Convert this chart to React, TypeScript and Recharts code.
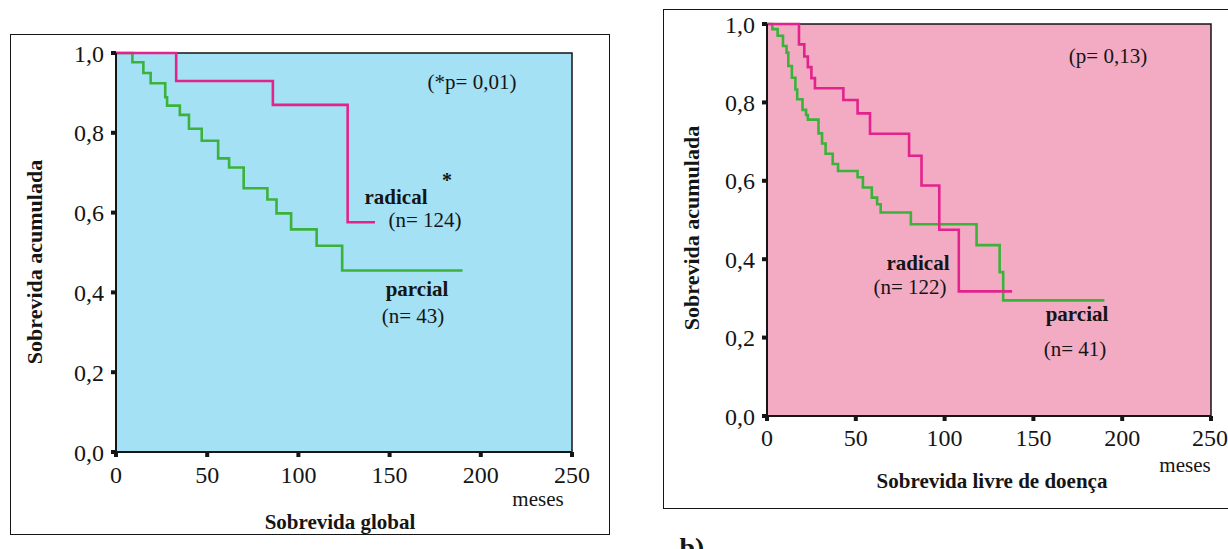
import React from 'react';
import { LineChart, Line, XAxis, YAxis, ReferenceArea } from 'recharts';

// Sobrevida global (months, cumulative survival)
const globalRadicalTimes = [0, 33, 86, 127, 142];
const globalRadicalSurv = [1.0, 0.93, 0.87, 0.576, 0.576];
const globalParcialTimes = [0, 9, 15, 19, 27, 28, 35, 40, 47, 56, 62, 70, 83, 88, 96, 110, 124, 190];
const globalParcialSurv = [
  1.0, 0.977, 0.95, 0.924, 0.889, 0.868, 0.845, 0.81, 0.78, 0.736, 0.713, 0.661, 0.633, 0.598, 0.558,
  0.517, 0.455, 0.455,
];

// Sobrevida livre de doença
const dfsRadicalTimes = [0, 18, 21, 23, 25, 27, 43, 51, 58, 80, 87, 97, 108, 138];
const dfsRadicalSurv = [1.0, 0.948, 0.917, 0.89, 0.862, 0.836, 0.806, 0.772, 0.72, 0.664, 0.588, 0.475, 0.318, 0.318];
const dfsParcialTimes = [
  0, 3, 6, 9, 11, 12, 14, 16, 17, 20, 22, 23, 29, 31, 33, 37, 40, 51, 54, 59, 62, 64, 81, 118, 131, 133, 190,
];
const dfsParcialSurv = [
  1.0, 0.987, 0.97, 0.944, 0.927, 0.893, 0.863, 0.833, 0.808, 0.781, 0.768, 0.756, 0.721, 0.695, 0.669, 0.643,
  0.625, 0.609, 0.583, 0.557, 0.54, 0.519, 0.489, 0.436, 0.367, 0.295, 0.295,
];

const xTicks = [0, 50, 100, 150, 200, 250];
const yTicks = [0, 0.2, 0.4, 0.6, 0.8, 1.0];

const toSeries = (times: number[], surv: number[]) => times.map((t, i) => ({ t, s: surv[i] }));

const SERIF = "'Liberation Serif', 'DejaVu Serif', 'Times New Roman', serif";
const MAGENTA = '#e3238d';
const GREEN = '#3bb23a';
const INK = '#151515';

function Txt({
  x,
  y,
  children,
  bold,
  size = 21,
  rotate,
}: {
  x: number;
  y: number;
  children: React.ReactNode;
  bold?: boolean;
  size?: number;
  rotate?: number;
}) {
  return (
    <div
      style={{
        position: 'absolute',
        left: x,
        top: y,
        transform: `translate(-50%, -50%)${rotate ? ` rotate(${rotate}deg)` : ''}`,
        fontFamily: SERIF,
        fontSize: size,
        fontWeight: bold ? 700 : 400,
        color: INK,
        whiteSpace: 'nowrap',
        lineHeight: 1,
      }}
    >
      {children}
    </div>
  );
}

interface KMProps {
  width: number;
  height: number;
  margin: { top: number; right: number; left: number; bottom: number };
  bg: string;
  radical: { t: number; s: number }[];
  parcial: { t: number; s: number }[];
  tickMargin: number;
}

function KMChart({ width, height, margin, bg, radical, parcial, tickMargin }: KMProps) {
  const tick = { fontSize: 24, fill: INK, fontFamily: SERIF };
  return (
    <LineChart width={width} height={height} margin={margin}>
      <XAxis
        dataKey="t"
        type="number"
        domain={[0, 250]}
        ticks={xTicks}
        tick={tick}
        tickSize={5}
        tickMargin={tickMargin}
        axisLine={{ stroke: INK, strokeWidth: 2 }}
        tickLine={{ stroke: INK, strokeWidth: 4 }}
        height={40}
        allowDataOverflow
      />
      <YAxis
        type="number"
        domain={[0, 1]}
        ticks={yTicks}
        tickFormatter={(v: number) => v.toFixed(1).replace('.', ',')}
        tick={tick}
        tickSize={5}
        tickMargin={7}
        axisLine={{ stroke: INK, strokeWidth: 2 }}
        tickLine={{ stroke: INK, strokeWidth: 4 }}
        width={52}
      />
      <ReferenceArea x1={0} x2={250} y1={0} y2={1} fill={bg} fillOpacity={1} stroke={INK} strokeWidth={1.5} />
      <Line
        data={parcial}
        dataKey="s"
        type="stepAfter"
        stroke={GREEN}
        strokeWidth={2.6}
        dot={false}
        isAnimationActive={false}
      />
      <Line
        data={radical}
        dataKey="s"
        type="stepAfter"
        stroke={MAGENTA}
        strokeWidth={2.6}
        dot={false}
        isAnimationActive={false}
      />
    </LineChart>
  );
}

export default function App() {
  const globalRadical = toSeries(globalRadicalTimes, globalRadicalSurv);
  const globalParcial = toSeries(globalParcialTimes, globalParcialSurv);
  const dfsRadical = toSeries(dfsRadicalTimes, dfsRadicalSurv);
  const dfsParcial = toSeries(dfsParcialTimes, dfsParcialSurv);

  return (
    <div
      style={{
        position: 'absolute',
        left: 0,
        top: 0,
        width: 1228,
        height: 549,
        background: '#fff',
        overflow: 'hidden',
      }}
    >
      {/* a) Sobrevida global */}
      <div
        style={{
          position: 'absolute',
          left: 10,
          top: 34,
          width: 598,
          height: 499,
          border: `1.5px solid ${INK}`,
        }}
      />
      <div style={{ position: 'absolute', left: 10, top: 40 }}>
        <KMChart
          width={600}
          height={505}
          margin={{ top: 13, right: 38, left: 54, bottom: 53 }}
          bg="#a4e1f4"
          radical={globalRadical}
          parcial={globalParcial}
          tickMargin={9}
        />
      </div>
      <Txt x={35} y={262} bold size={22} rotate={-90}>
        Sobrevida acumulada
      </Txt>
      <Txt x={472} y={82}>(*p= 0,01)</Txt>
      <Txt x={396} y={197} bold>
        radical
      </Txt>
      <Txt x={447} y={180} bold size={20}>
        *
      </Txt>
      <Txt x={425} y={220}>(n= 124)</Txt>
      <Txt x={417} y={289} bold>
        parcial
      </Txt>
      <Txt x={413} y={316}>(n= 43)</Txt>
      <Txt x={538} y={499}>meses</Txt>
      <Txt x={340} y={522} bold>
        Sobrevida global
      </Txt>

      {/* b) Sobrevida livre de doença */}
      <div
        style={{
          position: 'absolute',
          left: 663,
          top: 9,
          width: 600,
          height: 498,
          border: `1.5px solid ${INK}`,
        }}
      />
      <div style={{ position: 'absolute', left: 663, top: 8 }}>
        <KMChart
          width={565}
          height={505}
          margin={{ top: 16, right: 17, left: 52, bottom: 57 }}
          bg="#f3abc4"
          radical={dfsRadical}
          parcial={dfsParcial}
          tickMargin={8}
        />
      </div>
      <Txt x={692} y={228} bold size={22} rotate={-90}>
        Sobrevida acumulada
      </Txt>
      <Txt x={1108} y={56}>(p= 0,13)</Txt>
      <Txt x={918} y={263} bold>
        radical
      </Txt>
      <Txt x={910} y={287}>(n= 122)</Txt>
      <Txt x={1077} y={314} bold>
        parcial
      </Txt>
      <Txt x={1075} y={349}>(n= 41)</Txt>
      <Txt x={1185} y={465}>meses</Txt>
      <Txt x={992} y={481} bold>
        Sobrevida livre de doença
      </Txt>
      <Txt x={692} y={548} bold size={28}>
        b)
      </Txt>
    </div>
  );
}
